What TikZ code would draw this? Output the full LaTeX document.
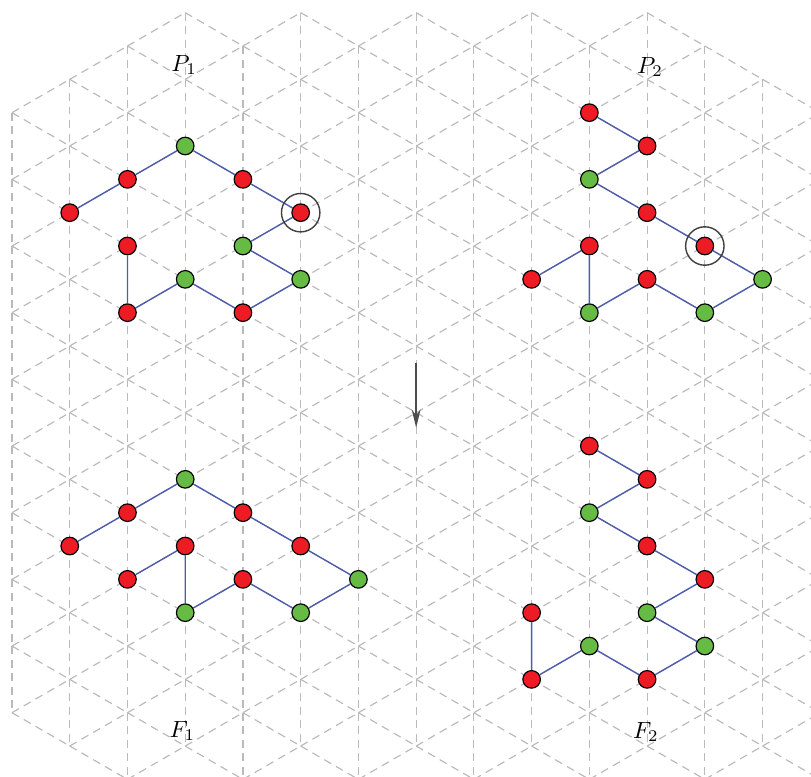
\documentclass[tikz,border=0pt]{standalone}
\usepackage{tikz}
\usetikzlibrary{arrows.meta}

\definecolor{vred}{RGB}{237,28,36}
\definecolor{vgreen}{RGB}{102,187,68}
\definecolor{linkblue}{RGB}{78,92,172}

\begin{document}
\begin{tikzpicture}[x={(0.866cm,0)},y={(0,-0.5cm)},
    declare function={inreg(\p,\q)=isodd(\p+\q)*(\p+\q>=3)*(\q>=\p-11)*(\q-\p<=21)*(\q>=0)*(\q<=23)*(\p>=0)*(\p<=14);},
    gridline/.style={black!27,line width=0.5pt,dash pattern=on 3.4pt off 2.4pt},
    link/.style={linkblue,line width=0.6pt},
    vtx/.style={circle,draw=black,line width=0.5pt,inner sep=0pt,minimum size=7.5pt},
    rv/.style={vtx,fill=vred},
    gv/.style={vtx,fill=vgreen},
    ring/.style={circle,draw=black!75,line width=0.6pt,inner sep=0pt,minimum size=16.4pt},
    flow/.style={black!70,line width=0.6pt,-{Stealth[length=7.8pt,width=3.8pt]}}]
  \useasboundingbox (-0.2078,-0.380) rectangle (13.839,22.90);
  \clip (-0.2078,-0.380) rectangle (13.839,22.90);

  % triangular lattice
  \foreach \i in {0,...,14}{
    \foreach \k in {0,...,23}{
      \pgfmathtruncatemacro\here{inreg(\i,\k)}
      \ifnum\here=1
        \pgfmathtruncatemacro\dn{inreg(\i,\k+2)}
        \pgfmathtruncatemacro\ru{inreg(\i+1,\k-1)}
        \pgfmathtruncatemacro\rd{inreg(\i+1,\k+1)}
        \ifnum\dn=1 \draw[gridline] (\i,\k) -- (\i,\k+2); \fi
        \ifnum\ru=1 \draw[gridline] (\i,\k) -- (\i+1,\k-1); \fi
        \ifnum\rd=1 \draw[gridline] (\i,\k) -- (\i+1,\k+1); \fi
      \fi
    }
  }

  % P_1
  \foreach \n/\i/\k/\c in {1/1/6/rv,2/2/5/rv,3/3/4/gv,4/4/5/rv,5/5/6/rv,6/4/7/gv,
                          7/5/8/gv,8/4/9/rv,9/3/8/gv,10/2/9/rv,11/2/7/rv}
    \node[\c] (p1-\n) at (\i,\k) {};
  % P_2
  \foreach \n/\i/\k/\c in {1/10/3/rv,2/11/4/rv,3/10/5/gv,4/11/6/rv,5/12/7/rv,6/13/8/gv,
                          7/12/9/gv,8/11/8/rv,9/10/9/gv,10/10/7/rv,11/9/8/rv}
    \node[\c] (p2-\n) at (\i,\k) {};
  % F_1
  \foreach \n/\i/\k/\c in {1/1/16/rv,2/2/15/rv,3/3/14/gv,4/4/15/rv,5/5/16/rv,6/6/17/gv,
                          7/5/18/gv,8/4/17/rv,9/3/18/gv,10/3/16/rv,11/2/17/rv}
    \node[\c] (f1-\n) at (\i,\k) {};
  % F_2
  \foreach \n/\i/\k/\c in {1/10/13/rv,2/11/14/rv,3/10/15/gv,4/11/16/rv,5/12/17/rv,6/11/18/gv,
                          7/12/19/gv,8/11/20/rv,9/10/19/gv,10/9/20/rv,11/9/18/rv}
    \node[\c] (f2-\n) at (\i,\k) {};

  \foreach \g in {p1,p2,f1,f2}{
    \draw[link] (\g-1) -- (\g-2) -- (\g-3) -- (\g-4) -- (\g-5) -- (\g-6)
      -- (\g-7) -- (\g-8) -- (\g-9) -- (\g-10) -- (\g-11);
  }

  \node[ring] (rp1) at (p1-5) {};
  \node[ring] (rp2) at (p2-5) {};

  \node (lp1) at (2.98,1.57) {$P_1$};
  \node (lp2) at (11.05,1.63) {$P_2$};
  \node (lf1) at (2.95,21.55) {$F_1$};
  \node (lf2) at (10.98,21.58) {$F_2$};

  \coordinate (atop) at (7,10.5);
  \coordinate (abot) at (7,12.45);
  \draw[flow] (atop) -- (abot);
\end{tikzpicture}
\end{document}
